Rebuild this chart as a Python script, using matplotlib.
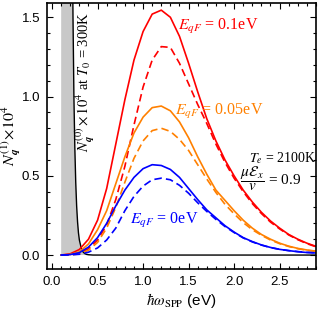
import matplotlib
matplotlib.use("Agg")
import matplotlib.pyplot as plt
from matplotlib.ticker import MultipleLocator

plt.rcParams['font.family'] = ['Liberation Sans', 'DejaVu Sans']
plt.rcParams['mathtext.fontset'] = 'stix'

# photon energy grid (eV)
x = [0.1, 0.2, 0.3, 0.4, 0.5, 0.6, 0.7, 0.8, 0.9, 1.0,
     1.1, 1.2, 1.3, 1.4, 1.5, 1.6, 1.7, 1.8, 1.9, 2.0,
     2.1, 2.2, 2.3, 2.4, 2.5, 2.6, 2.7, 2.8, 2.9]

red_solid = [0.0, 0.008, 0.035, 0.10, 0.22, 0.42, 0.70, 0.98, 1.23, 1.41,
             1.52, 1.545, 1.50, 1.38, 1.21, 1.03, 0.86, 0.72, 0.60, 0.50,
             0.41, 0.335, 0.27, 0.215, 0.17, 0.13, 0.10, 0.075, 0.055]
red_dashed = [0.0, 0.002, 0.012, 0.04, 0.095, 0.19, 0.35, 0.56, 0.82, 1.06,
              1.23, 1.315, 1.31, 1.21, 1.08, 0.95, 0.83, 0.70, 0.585, 0.485,
              0.40, 0.325, 0.262, 0.208, 0.165, 0.127, 0.097, 0.072, 0.052]
orange_solid = [0.0, 0.004, 0.02, 0.07, 0.16, 0.28, 0.45, 0.62, 0.77, 0.87,
                0.93, 0.94, 0.91, 0.84, 0.74, 0.62, 0.51, 0.41, 0.345, 0.28,
                0.22, 0.17, 0.13, 0.10, 0.075, 0.056, 0.042, 0.032, 0.025]
orange_dashed = [0.0, 0.001, 0.007, 0.03, 0.08, 0.17, 0.30, 0.46, 0.61, 0.72,
                 0.785, 0.80, 0.78, 0.73, 0.66, 0.57, 0.48, 0.395, 0.32, 0.26,
                 0.205, 0.16, 0.125, 0.095, 0.072, 0.054, 0.04, 0.03, 0.023]
blue_solid = [0.0, 0.003, 0.015, 0.05, 0.11, 0.20, 0.31, 0.41, 0.49, 0.545,
              0.57, 0.565, 0.54, 0.49, 0.42, 0.35, 0.285, 0.235, 0.185, 0.145,
              0.11, 0.085, 0.064, 0.048, 0.036, 0.028, 0.021, 0.016, 0.013]
blue_dashed = [0.0, 0.001, 0.005, 0.018, 0.045, 0.095, 0.17, 0.28, 0.37, 0.435,
               0.475, 0.485, 0.475, 0.44, 0.39, 0.33, 0.275, 0.225, 0.18, 0.142,
               0.108, 0.083, 0.063, 0.047, 0.036, 0.028, 0.022, 0.017, 0.014]

# equilibrium occupation at T0 = 300K (x1e4)
x0 = [0.10, 0.15, 0.20, 0.22, 0.23, 0.24, 0.25, 0.26, 0.27, 0.28, 0.29,
      0.30, 0.32, 0.34, 0.36, 0.38, 0.40, 0.45, 0.50, 1.0, 2.0, 2.9]
n0 = [150.0, 25.0, 4.5, 2.2, 1.5, 1.0, 0.68, 0.46, 0.31, 0.21, 0.14,
      0.095, 0.045, 0.02, 0.009, 0.004, 0.002, 0.0, 0.0, 0.0, 0.0, 0.0]

fig = plt.figure(figsize=(3.18, 3.14), dpi=100)
ax = fig.add_axes([0.148, 0.1433, 0.8457, 0.8471])

ax.fill_between(x0, 0, n0, color='#c8c8c8', lw=0)
ax.plot(x0, n0, color='black', lw=1.0)

lw = 1.2
dash = (0, (4.5, 2.5))
ax.plot(x, red_solid, color='#ff0000', lw=lw)
ax.plot(x, red_dashed, color='#ff0000', lw=lw, linestyle=dash)
ax.plot(x, orange_solid, color='#ff8000', lw=lw)
ax.plot(x, orange_dashed, color='#ff8000', lw=lw, linestyle=dash)
ax.plot(x, blue_solid, color='#0000ff', lw=lw)
ax.plot(x, blue_dashed, color='#0000ff', lw=lw, linestyle=dash)

ax.set_xlim(-0.055, 2.9)
ax.set_ylim(-0.088, 1.59)

ax.xaxis.set_major_locator(MultipleLocator(0.5))
ax.xaxis.set_minor_locator(MultipleLocator(0.1))
ax.yaxis.set_major_locator(MultipleLocator(0.5))
ax.yaxis.set_minor_locator(MultipleLocator(0.1))
ax.xaxis.set_major_formatter(plt.FormatStrFormatter('%.1f'))
ax.yaxis.set_major_formatter(plt.FormatStrFormatter('%.1f'))
ax.tick_params(which='both', direction='in', top=True, right=True,
               labelsize=9.5, width=0.8, colors='black')
ax.tick_params(which='major', length=4, pad=5)
ax.tick_params(which='minor', length=2.2)
for s in ax.spines.values():
    s.set_linewidth(1.2)

ax.set_xlabel(r'$\hbar\omega_{\mathrm{SPP}}$ (eV)', fontsize=11, labelpad=2)
ax.set_ylabel(r'$N_{\boldsymbol{q}}^{(1)}\!\times\!10^4$', fontsize=11.5, labelpad=0)

ax.text(0.365, 1.09, r'$N_{\boldsymbol{q}}^{(0)}\times 10^4$ at $T_0$ = 300K',
        rotation=90, fontsize=10.5, ha='center', va='center', color='black',
        family='Liberation Serif')

ax.text(1.38, 1.44, r'$E_{qF}$ = 0.1eV', fontsize=11.5, color='#ff0000',
        ha='left', va='center', family='Liberation Serif')
ax.text(1.35, 0.905, r'$E_{qF}$ = 0.05eV', fontsize=11.5, color='#ff8000',
        ha='left', va='center', family='Liberation Serif')
ax.text(0.857, 0.22, r'$E_{qF}$ = 0eV', fontsize=11.5, color='#0000ff',
        ha='left', va='center', family='Liberation Serif')
ax.text(2.165, 0.61, r'$T_e$ = 2100K', fontsize=10, color='black',
        ha='left', va='center', family='Liberation Serif')
ax.text(2.07, 0.48, r'$\dfrac{\mu\mathcal{E}_x}{v}$ = 0.9', fontsize=11,
        color='black', ha='left', va='center', family='Liberation Serif')

fig.savefig('out.png', dpi=100)
